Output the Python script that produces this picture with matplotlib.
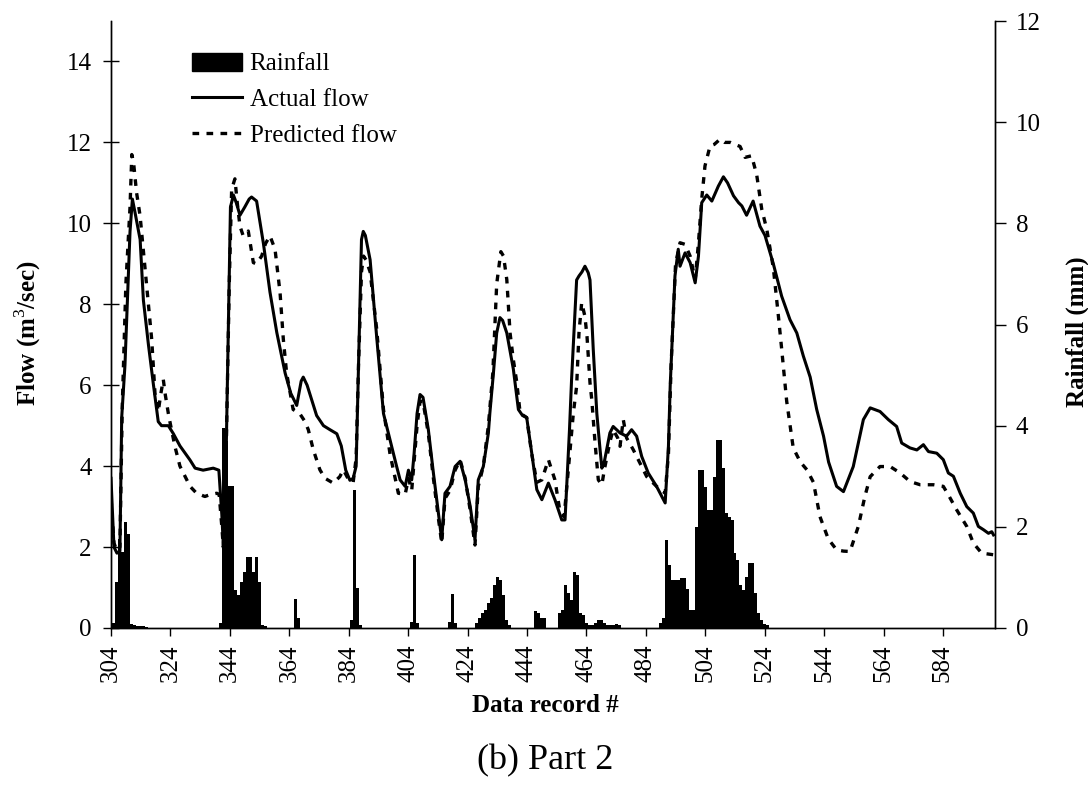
import matplotlib
matplotlib.use("Agg")
import matplotlib.pyplot as plt
from matplotlib.patches import Patch
from matplotlib.lines import Line2D

plt.rcParams['font.family'] = ['Liberation Serif', 'DejaVu Serif']
plt.rcParams['mathtext.fontset'] = 'custom'
plt.rcParams['mathtext.rm'] = 'Liberation Serif'
plt.rcParams['mathtext.bf'] = 'Liberation Serif:bold'

# ---------------- data ----------------
actual_rec = [304, 305, 306, 307, 307.6, 308.7, 310.4, 311.2, 312, 313.8, 314.9, 316.6, 318.3, 319.9, 321,
              323.3, 325, 327.2, 330.6, 332.3, 335, 338.4, 340.3, 341.3, 341.9, 342.8, 343.5, 344.2, 345.2,
              346.2, 347.4, 349, 350.5, 351.3, 353, 355.3, 357.5, 359.8, 362.6, 364.5, 366.5, 368, 368.7,
              370, 373.2, 375.5, 377.7, 380, 381.5, 383, 384.4, 385.5, 386.5, 387.2, 388.3, 388.9, 389.6,
              391.2, 393.4, 395.7, 397.9, 400.1, 401.3, 403, 404.1, 405.2, 406, 407, 408, 409, 410.8, 412.5,
              414.2, 415.3, 416.4, 418.1, 419.8, 421.5, 423.2, 424.9, 426.5, 427.6, 429.3, 431, 431.5, 432.7,
              433.8, 434.9, 435.8, 437.2, 439.4, 441.1, 442.5, 443.9, 445.6, 447.3, 449, 451.2, 453.4, 455.7,
              456.8, 458.3, 459, 460.7, 461.5, 462.5, 463.5, 464.6, 465.2, 466.3, 467.5, 468.6, 469.2, 470,
              471.9, 473, 475.3, 477.5, 479.2, 480.9, 482.6, 484.8, 487.6, 490.5, 491.6, 492.2, 493.8, 494.9,
              495.5, 497.2, 498.9, 500.6, 501.7, 502.8, 504.5, 506.2, 508.4, 510.1, 511.5, 513.5, 515.2,
              516.3, 517.9, 520.1, 522.4, 524.1, 526.9, 529.7, 532.5, 534.8, 537, 539.3, 541.5, 543.8, 545.5,
              548.2, 550.5, 553.8, 557.2, 559.5, 562.8, 565.6, 568.4, 570.1, 572.9, 575.2, 577.4, 579.1,
              581.9, 584.1, 585.8, 587.5, 589.8, 592, 594.2, 595.9, 597.6, 599.3, 600.4, 601]
actual_flow = [3.7, 2.0, 1.85, 1.9, 5.2, 6.5, 9.8, 10.6, 10.3, 9.6, 8.1, 7.0, 6.0, 5.1, 5.0,
               5.0, 4.8, 4.5, 4.15, 3.95, 3.9, 3.95, 3.9, 2.8, 1.9, 4.5, 7.5, 10.4, 10.7,
               10.5, 10.2, 10.4, 10.6, 10.65, 10.55, 9.5, 8.3, 7.3, 6.3, 5.8, 5.5, 6.1, 6.2,
               6.0, 5.25, 5.0, 4.9, 4.8, 4.5, 3.9, 3.65, 3.7, 4.0, 6.2, 9.6, 9.8, 9.7,
               9.1, 7.2, 5.3, 4.65, 4.0, 3.66, 3.5, 3.9, 3.66, 4.3, 5.3, 5.77, 5.7, 4.9, 3.83,
               2.84, 2.18, 3.33, 3.5, 3.99, 4.12, 3.66, 3.0, 2.18, 3.66, 3.99, 4.82, 5.31, 6.3,
               7.29, 7.67, 7.6, 7.29, 6.4, 5.4, 5.25, 5.2, 4.32, 3.42, 3.17, 3.58, 3.17, 2.67,
               2.67, 4.9, 6.14, 8.6, 8.7, 8.8, 8.94, 8.78, 8.6, 6.88, 5.3, 4.4, 3.95, 4.1,
               4.82, 4.98, 4.82, 4.74, 4.9, 4.74, 4.24, 3.83, 3.5, 3.09, 4.49, 6.0, 8.7, 9.36,
               8.94, 9.27, 9.03, 8.53, 9.19, 10.51, 10.7, 10.55, 10.92, 11.15, 11.0, 10.68, 10.51,
               10.43, 10.2, 10.55, 9.93, 9.7, 9.0, 8.2, 7.62, 7.29, 6.72, 6.2, 5.4, 4.74, 4.1,
               3.5, 3.37, 3.99, 5.15, 5.44, 5.35, 5.15, 4.98, 4.57, 4.45, 4.4, 4.53, 4.36,
               4.32, 4.16, 3.83, 3.75, 3.33, 3.0, 2.84, 2.51, 2.43, 2.34, 2.38, 2.3]

pred_rec = [304, 305, 306, 307, 307.8, 309, 310.4, 311, 311.6, 312.6, 313.8, 316, 317.7, 318.8, 319.9,
            320.8, 321.6, 322.3, 323.3, 323.9, 325.5, 327.2, 330.6, 332.8, 335.6, 337.5, 339.6, 340.4,
            341.3, 341.8, 342.8, 343.8, 344.6, 345.7, 346.5, 347.4, 348.5, 350.2, 351.9, 352.9, 354.7,
            356, 357.5, 359.2, 360.9, 362, 363.1, 365.3, 367.5, 369.3, 370.4, 372.1, 374.3, 376, 378.8,
            381, 382.2, 384, 385.5, 386.5, 387.3, 388.3, 389, 389.8, 391.2, 393.4, 395.7, 397.9, 400.7,
            403, 404.1, 405.2, 406, 407, 408, 409, 410.8, 412.5, 414.2, 415.3, 416.4, 418.1, 419.8, 421.5,
            423.2, 424.9, 426.5, 427.6, 429.3, 431, 432.5, 433.8, 435.2, 436.1, 437.2, 438.3, 439.4,
            440.5, 441.7, 443.9, 445.6, 447.3, 449, 451.2, 453.4, 455, 456.5, 458, 459.6, 460.7, 461.5,
            462.4, 463.5, 464.2, 465.2, 465.8, 466.9, 468, 469.2, 470, 471.9, 473, 474.5, 475.3, 476.4,
            477.5, 479.8, 482, 484.3, 487.6, 490.5, 491.6, 492.5, 494, 495.5, 497.2, 498.9, 500.6, 501.7,
            502.8, 503.9, 505.6, 507, 509, 510.5, 512.4, 514, 515.7, 517.4, 519.6, 521.3, 523, 524.7,
            526.9, 528.6, 529.7, 531.4, 533.6, 536, 538.2, 540.4, 542.6, 545.4, 548.2, 550.5, 552.7,
            555.5, 557.7, 559.5, 562.8, 566.2, 569.6, 572.9, 576.3, 580.8, 584.1, 585.8, 588.6, 592,
            594.2, 597, 601]
pred_flow = [3.2, 2.1, 1.9, 2.0, 5.5, 8.5, 10.4, 11.7, 11.5, 10.76, 10.18, 8.45, 7.13, 5.8, 5.35,
             5.8, 6.14, 5.75, 5.3, 5.07, 4.49, 4.0, 3.5, 3.33, 3.25, 3.3, 3.33, 3.3,
             2.5, 2.0, 4.5, 8.5, 10.84, 11.1, 10.5, 9.93, 9.69, 9.81, 9.03, 9.0, 9.19,
             9.5, 9.69, 9.36, 8.28, 7.13, 6.3, 5.4, 5.3, 5.1, 4.9, 4.4, 3.91, 3.7, 3.58,
             3.74, 3.91, 3.66, 3.6, 4.2, 6.5, 8.8, 9.19, 9.1, 8.8, 7.4, 5.4, 4.3, 3.33,
             3.3, 3.7, 3.4, 4.1, 5.0, 5.6, 5.6, 4.8, 3.7, 2.7, 2.1, 3.2, 3.4, 3.9, 4.15,
             3.7, 2.9, 2.05, 3.5, 4.0, 5.0, 6.3, 8.5, 9.3, 9.19, 8.61, 7.29, 6.63,
             6.1, 5.31, 5.2, 4.3, 3.6, 3.66, 4.16, 3.66, 2.92, 2.75, 4.0, 5.31, 5.97, 7.3,
             8.04, 7.7, 7.2, 6.06, 5.64, 4.58, 3.66, 3.54, 3.9, 4.6, 4.9, 4.7, 4.49, 5.15,
             4.7, 4.4, 4.08, 3.74, 3.5, 3.33, 4.3, 6.5, 9.0, 9.52, 9.48, 9.19, 8.61, 9.52,
             10.6, 11.42, 11.91, 11.95, 12.08, 12.0, 12.0, 11.95, 11.9, 11.63, 11.67, 11.2, 10.35, 9.85,
             8.9, 7.71, 6.9, 5.6, 4.45, 4.1, 3.91, 3.6, 2.75, 2.2, 1.93, 1.9, 1.89,
             2.51, 3.25, 3.74, 3.99, 3.99, 3.83, 3.62, 3.54, 3.54, 3.5, 3.29, 2.92, 2.51,
             2.1, 1.85, 1.81]

rain_rec = [305, 306, 307, 308, 309, 310, 311, 312, 313, 314, 315, 316,
            341, 342, 343, 344, 345, 346, 347, 348, 349, 350, 351, 352, 353, 354, 355, 356,
            366, 367, 385, 386, 387, 388, 405, 406, 407, 418, 419, 420,
            427, 428, 429, 430, 431, 432, 433, 434, 435, 436, 437, 438,
            447, 448, 449, 450, 455, 456, 457, 458, 459, 460, 461, 462, 463, 464, 465, 466,
            467, 468, 469, 470, 471, 472, 473, 474, 475,
            489, 490, 491, 492, 493, 494, 495, 496, 497, 498, 499, 500, 501, 502, 503, 504,
            505, 506, 507, 508, 509, 510, 511, 512, 513, 514, 515, 516, 517, 518, 519, 520,
            521, 522, 523, 524, 525]
rain_mm = [0.1, 0.9, 1.75, 1.5, 2.1, 1.85, 0.08, 0.05, 0.04, 0.03, 0.03, 0.02,
           0.1, 3.96, 3.7, 2.8, 2.8, 0.75, 0.65, 0.9, 1.1, 1.4, 1.4, 1.1, 1.4, 0.9, 0.05, 0.03,
           0.58, 0.2, 0.15, 2.72, 0.8, 0.05, 0.12, 1.45, 0.1, 0.12, 0.68, 0.1,
           0.1, 0.2, 0.3, 0.35, 0.5, 0.6, 0.85, 1.0, 0.95, 0.65, 0.15, 0.05,
           0.33, 0.3, 0.2, 0.2, 0.3, 0.35, 0.85, 0.7, 0.55, 1.1, 1.05, 0.3, 0.25, 0.1, 0.05, 0.05,
           0.1, 0.15, 0.15, 0.1, 0.05, 0.05, 0.05, 0.08, 0.05,
           0.1, 0.2, 1.74, 1.25, 0.95, 0.95, 0.95, 0.98, 0.98, 0.78, 0.36, 0.36, 2.0, 3.12, 3.12, 2.79,
           2.33, 2.33, 2.99, 3.72, 3.72, 3.16, 2.27, 2.2, 2.14, 1.48, 1.34, 0.85, 0.75, 1.0, 1.28, 1.28,
           0.69, 0.3, 0.15, 0.08, 0.05]

x_ticks = list(range(304, 600, 20))
flow_ticks = [0, 2, 4, 6, 8, 10, 12, 14]
rain_ticks = [0, 2, 4, 6, 8, 10, 12]

# ---------------- figure ----------------
W, H = 1088, 791
fig = plt.figure(figsize=(W / 100, H / 100), dpi=100)
ax = fig.add_axes([111 / W, 1 - 628 / H, (995 - 111) / W, (628 - 21) / H])
ax2 = ax.twinx()

ax2.bar(rain_rec, rain_mm, width=1.0, color='black', edgecolor='none', align='center')
ax2.set_ylim(0, 12)
ax2.set_yticks(rain_ticks)

ax.plot(actual_rec, actual_flow, color='black', lw=2.2, solid_joinstyle='round')
ax.plot(pred_rec, pred_flow, color='black', lw=2.4, linestyle=(0, (2.0, 2.2)))
ax.set_ylim(0, 15)
ax.set_xlim(304, 601.5)
ax.set_xticks(x_ticks)
ax.set_yticks(flow_ticks)

ax.set_zorder(ax2.get_zorder() + 1)
ax.patch.set_visible(False)

for a in (ax, ax2):
    a.spines['top'].set_visible(False)
    for s in a.spines.values():
        s.set_linewidth(1.0)

ax.tick_params(axis='x', direction='out', length=6, width=1, pad=6, labelsize=18, labelrotation=90)
ax.tick_params(axis='y', direction='inout', length=12, width=1, pad=8, labelsize=18)
ax2.tick_params(axis='y', direction='out', length=8, width=1, pad=7, labelsize=18)

fig.text(28 / W, 1 - 333 / H, 'Flow (m$^3$/sec)', rotation=90, ha='center', va='center',
         fontsize=18, fontweight='bold')
fig.text(1077 / W, 1 - 332 / H, 'Rainfall (mm)', rotation=90, ha='center', va='center',
         fontsize=18, fontweight='bold')
fig.text(545 / W, 1 - 706 / H, 'Data record #', ha='center', va='center', fontsize=18, fontweight='bold')
fig.text(545 / W, 1 - 761 / H, '(b) Part 2', ha='center', va='center', fontsize=26)

handles = [Patch(facecolor='black', edgecolor='black'),
           Line2D([], [], color='black', lw=2.2),
           Line2D([], [], color='black', lw=2.4, linestyle=(0, (2.0, 2.2)))]
labels = ['Rainfall', 'Actual flow', 'Predicted flow']
fig.legend(handles, labels, loc='upper left', bbox_to_anchor=(192 / W, 1 - 53 / H),
           frameon=False, fontsize=18, handlelength=2.0, handletextpad=0.3,
           labelspacing=0.52, borderpad=0, borderaxespad=0)

fig.savefig('out.png', dpi=100)
